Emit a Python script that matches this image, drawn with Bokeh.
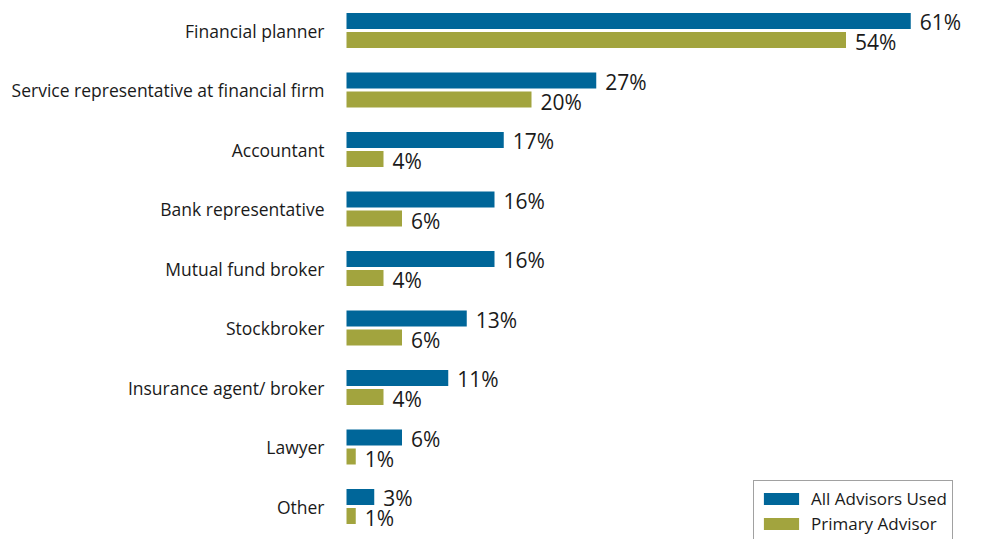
from bokeh.plotting import figure
from bokeh.models import ColumnDataSource, Range1d, Legend, LegendItem
from bokeh.core.properties import value
from bokeh.embed import file_html
from bokeh.resources import INLINE

categories = ["Financial planner", "Service representative at financial firm", "Accountant",
              "Bank representative", "Mutual fund broker", "Stockbroker",
              "Insurance agent/ broker", "Lawyer", "Other"]
all_advisors = [61, 27, 17, 16, 16, 13, 11, 6, 3]
primary_advisor = [54, 20, 4, 6, 4, 6, 4, 1, 1]

BLUE = "#006699"
OLIVE = "#A2A43E"
TEXT = "#1a1a1a"
FONT = "Open Sans"

W, H = 966, 539
px_per_unit = 9.25
x0_px = 346
row_px = 59.5
top_px = 30

x_range = Range1d(-x0_px / px_per_unit, (W - x0_px) / px_per_unit)
y_range = Range1d((H - top_px) / row_px, -top_px / row_px)

p = figure(width=W, height=H, x_range=x_range, y_range=y_range,
           output_backend="svg", toolbar_location=None, min_border=0,
           outline_line_color=None, background_fill_color="white")
p.axis.visible = False
p.grid.visible = False

idx = list(range(len(categories)))
off = 9.5 / row_px
bh = 16 / row_px

src_a = ColumnDataSource(dict(y=[i - off for i in idx], v=all_advisors,
                              lab=[f"{v}%" for v in all_advisors]))
src_p = ColumnDataSource(dict(y=[i + off for i in idx], v=primary_advisor,
                              lab=[f"{v}%" for v in primary_advisor]))
src_c = ColumnDataSource(dict(y=idx, x=[0] * len(idx), cat=categories))

ra = p.hbar(y="y", left=0, right="v", height=bh, source=src_a, fill_color=BLUE, line_color=None)
rp = p.hbar(y="y", left=0, right="v", height=bh, source=src_p, fill_color=OLIVE, line_color=None)

p.text(x="v", y="y", text="lab", source=src_a, x_offset=9, y_offset=1,
       text_font=value(FONT), text_font_size="21px", text_color=TEXT,
       text_baseline="middle", text_align="left")
p.text(x="v", y="y", text="lab", source=src_p, x_offset=9, y_offset=2,
       text_font=value(FONT), text_font_size="21px", text_color=TEXT,
       text_baseline="middle", text_align="left")
p.text(x="x", y="y", text="cat", source=src_c, x_offset=-22, y_offset=0,
       text_font=value(FONT), text_font_size="17.5px", text_color=TEXT,
       text_baseline="middle", text_align="right")

legend = Legend(items=[LegendItem(label="All Advisors Used", renderers=[ra]),
                       LegendItem(label="Primary Advisor", renderers=[rp])],
                location=(753, -3), orientation="vertical",
                label_text_font=FONT, label_text_font_size="17px", label_text_color=TEXT,
                glyph_width=44, glyph_height=15, label_height=25, label_standoff=8,
                spacing=0, padding=5, margin=0,
                border_line_color="#444444", border_line_width=1,
                background_fill_color="white", background_fill_alpha=1)
p.add_layout(legend)

open("out.html", "w").write(file_html(p, INLINE))
